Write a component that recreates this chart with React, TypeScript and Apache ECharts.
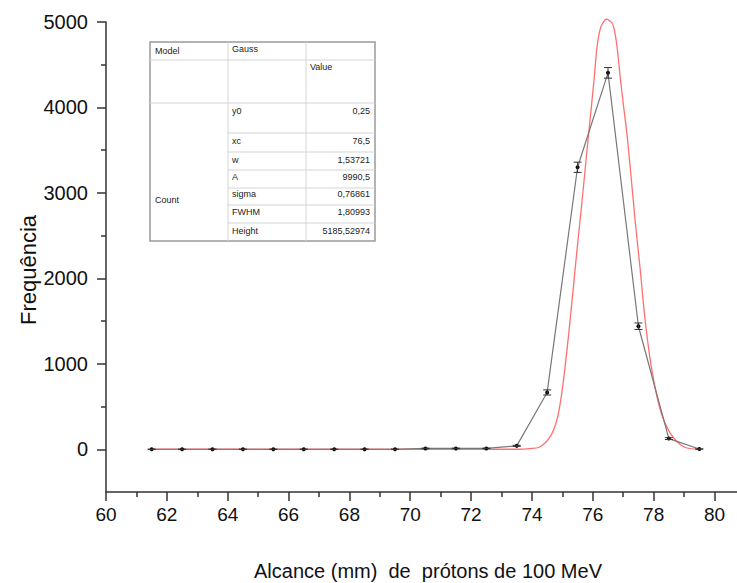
import React, { useEffect, useRef } from "react";
import * as echarts from "echarts";

// ---- data ----
const xValues = [61.5, 62.5, 63.5, 64.5, 65.5, 66.5, 67.5, 68.5, 69.5, 70.5, 71.5, 72.5, 73.5, 74.5, 75.5, 76.5, 77.5, 78.5, 79.5];
const counts = [0, 0, 0, 0, 0, 0, 0, 0, 0, 10, 10, 10, 40, 665, 3300, 4405, 1440, 125, 3];
const countErrors = [0, 0, 0, 0, 0, 0, 0, 0, 0, 3, 3, 3, 6, 30, 60, 62, 38, 11, 2];

// Gauss fit curve
const fitX = [61.5, 73.3, 73.83, 74.27, 74.6, 74.82, 74.98, 75.14, 75.31, 75.47, 75.64, 75.8, 75.96, 76.05, 76.13, 76.2, 76.3, 76.46, 76.64, 76.73, 76.81, 76.9, 77.0, 77.12, 77.23, 77.39, 77.56, 77.72, 77.94, 78.22, 78.55, 78.99, 79.5];
const fitY = [0, 0, 5, 30, 147, 343, 655, 1123, 1708, 2293, 2879, 3464, 4030, 4360, 4680, 4850, 4970, 5032, 4985, 4868, 4672, 4360, 4049, 3700, 3300, 2683, 2098, 1513, 928, 460, 187, 30, 0];

const xMajor = [60, 62, 64, 66, 68, 70, 72, 74, 76, 78, 80];
const xMinor = [61, 63, 65, 67, 69, 71, 73, 75, 77, 79];
const yMajor = [0, 1000, 2000, 3000, 4000, 5000];
const yMinor = [500, 1500, 2500, 3500, 4500];

const tableModel = "Gauss";
const tableDep = "Count";
const paramNames = ["y0", "xc", "w", "A", "sigma", "FWHM", "Height"];
const paramValues = ["0,25", "76,5", "1,53721", "9990,5", "0,76861", "1,80993", "5185,52974"];

const xTitle = "Alcance (mm)  de  prótons de 100 MeV";
const yTitle = "Frequência";

const FONT = "'Liberation Sans', Arial, sans-serif";

function buildTable() {
  const L = 150, R = 375, T = 42, B = 241;
  const c1 = 228, c2 = 306;
  const rowLines = [133, 152, 170, 188, 205, 223];
  const rowCenters = [111, 141, 160, 177, 194, 212, 231];
  const inner = "#d4d4d4";
  const children: any[] = [];
  children.push({ type: "rect", shape: { x: L, y: T, width: R - L, height: B - T }, style: { fill: "#fff", stroke: "#9a9a9a", lineWidth: 1.5 } });
  const ln = (x1: number, y1: number, x2: number, y2: number) =>
    children.push({ type: "line", shape: { x1, y1, x2, y2 }, style: { stroke: inner, lineWidth: 1 } });
  ln(c1, T, c1, B);
  ln(c2, T, c2, B);
  ln(L, 60, R, 60);
  ln(L, 103, R, 103);
  rowLines.forEach((y) => ln(c1, y, R, y));
  const txt = (text: string, x: number, y: number, align = "left") =>
    children.push({
      type: "text",
      style: { text, x, y, fontSize: 9, fontFamily: FONT, fill: "#222", align, verticalAlign: "middle" },
    });
  txt("Model", 155, 51);
  txt(tableModel, 232, 49);
  txt("Value", 310, 67);
  txt(tableDep, 155, 200);
  paramNames.forEach((n, i) => {
    txt(n, 232, rowCenters[i]);
    txt(paramValues[i], 370, rowCenters[i], "right");
  });
  return { type: "group", children, z: 100 };
}

export default function App() {
  const ref = useRef<HTMLDivElement>(null);
  useEffect(() => {
    if (!ref.current) return;
    const chart = echarts.init(ref.current, null, { renderer: "svg" });
    const axisColor = "#333";
    const plain = (v: number) => String(v);
    const option: any = {
      animation: false,
      backgroundColor: "#fff",
      grid: { left: 106, right: 0, top: 22, bottom: 91, containLabel: false },
      xAxis: [
        {
          type: "value", min: 60, max: 80.74, position: "bottom",
          axisLine: { show: true, onZero: false, lineStyle: { color: axisColor, width: 1.5 } },
          axisTick: { show: true, customValues: xMajor, length: 9, lineStyle: { color: axisColor, width: 1.5 } },
          axisLabel: { show: true, customValues: xMajor, formatter: plain, fontSize: 19, fontFamily: FONT, color: "#111", margin: 13 },
          splitLine: { show: false },
        },
        {
          type: "value", min: 60, max: 80.74, position: "bottom",
          axisLine: { show: false, onZero: false },
          axisTick: { show: true, customValues: xMinor, length: 5, lineStyle: { color: axisColor, width: 1.5 } },
          axisLabel: { show: false },
          splitLine: { show: false },
        },
      ],
      yAxis: [
        {
          type: "value", min: -500, max: 5000, position: "left",
          axisLine: { show: true, onZero: false, lineStyle: { color: axisColor, width: 1.5 } },
          axisTick: { show: true, customValues: yMajor, length: 9, lineStyle: { color: axisColor, width: 1.5 } },
          axisLabel: { show: true, customValues: yMajor, formatter: plain, fontSize: 20, fontFamily: FONT, color: "#111", margin: 18 },
          splitLine: { show: false },
        },
        {
          type: "value", min: -500, max: 5000, position: "left",
          axisLine: { show: false, onZero: false },
          axisTick: { show: true, customValues: yMinor, length: 5, lineStyle: { color: axisColor, width: 1.5 } },
          axisLabel: { show: false },
          splitLine: { show: false },
        },
      ],
      series: [
        {
          type: "line",
          name: "Count",
          xAxisIndex: 0, yAxisIndex: 0,
          data: xValues.map((x, i) => [x, counts[i]]),
          lineStyle: { color: "#777", width: 1.2 },
          symbol: "circle", symbolSize: 4,
          itemStyle: { color: "#000" },
          z: 3,
        },
        {
          type: "custom",
          name: "errors",
          xAxisIndex: 0, yAxisIndex: 0,
          data: xValues.map((x, i) => [x, counts[i] - countErrors[i], counts[i] + countErrors[i]]),
          renderItem: (params: any, api: any) => {
            const x = api.value(0);
            const lo = api.coord([x, api.value(1)]);
            const hi = api.coord([x, api.value(2)]);
            const hw = 4;
            const st = { stroke: "#333", lineWidth: 1 };
            return {
              type: "group",
              children: [
                { type: "line", shape: { x1: lo[0], y1: lo[1], x2: hi[0], y2: hi[1] }, style: st },
                { type: "line", shape: { x1: lo[0] - hw, y1: lo[1], x2: lo[0] + hw, y2: lo[1] }, style: st },
                { type: "line", shape: { x1: hi[0] - hw, y1: hi[1], x2: hi[0] + hw, y2: hi[1] }, style: st },
              ],
            };
          },
          z: 4,
        },
        {
          type: "line",
          name: "Fit",
          xAxisIndex: 0, yAxisIndex: 0,
          data: fitX.map((x, i) => [x, fitY[i]]),
          smooth: 0.3,
          showSymbol: false,
          symbol: "none",
          clip: false,
          lineStyle: { color: "#ff7070", width: 1.3 },
          z: 2,
        },
      ],
      graphic: [
        buildTable(),
        {
          type: "text",
          x: 28, y: 270, rotation: Math.PI / 2,
          style: { text: yTitle, x: 0, y: 0, fontSize: 22, fontFamily: FONT, fill: "#111", align: "center", verticalAlign: "middle" },
        },
        {
          type: "text",
          x: 428, y: 571,
          style: { text: xTitle, x: 0, y: 0, fontSize: 20, fontFamily: FONT, fill: "#111", align: "center", verticalAlign: "middle" },
        },
      ],
    };
    chart.setOption(option);
    return () => chart.dispose();
  }, []);
  return <div ref={ref} style={{ position: "absolute", left: 0, top: 0, width: 737, height: 583 }} />;
}
